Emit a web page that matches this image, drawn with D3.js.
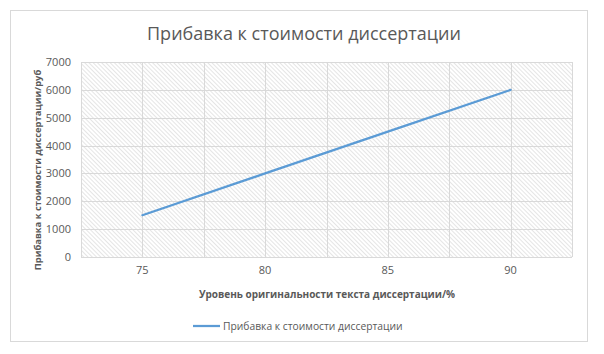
<!DOCTYPE html>
<html>
<head>
<meta charset="utf-8">
<script src="https://cdn.jsdelivr.net/npm/d3@7"></script>
<style>
  body { margin: 0; background: #fff; }
  text { font-family: "Open Sans", "Liberation Sans", sans-serif; }
</style>
</head>
<body>
<script>
const categories = ["75", "80", "85", "90"];
const values = [1500, 3000, 4500, 6000];
const yTicks = [0, 1000, 2000, 3000, 4000, 5000, 6000, 7000];
const chartTitle = "Прибавка к стоимости диссертации";
const xTitle = "Уровень оригинальности текста диссертации/%";
const yTitle = "Прибавка к стоимости диссертации/руб";
const seriesName = "Прибавка к стоимости диссертации";

const width = 604, height = 354;
const plot = { left: 81, right: 572, top: 62, bottom: 257 };

const svg = d3.select("body")
    .append("svg")
    .attr("width", width)
    .attr("height", height);

const defs = svg.append("defs");
const pat = defs.append("pattern")
    .attr("id", "hatch")
    .attr("patternUnits", "userSpaceOnUse")
    .attr("width", 3)
    .attr("height", 3)
    .attr("patternTransform", "rotate(-45)");
pat.append("rect").attr("width", 3).attr("height", 3).attr("fill", "#fff");
pat.append("line")
    .attr("x1", 0).attr("y1", 0).attr("x2", 0).attr("y2", 3)
    .attr("stroke", "#cccccc")
    .attr("stroke-width", 1);

// chart border
svg.append("rect")
    .attr("x", 10.5).attr("y", 10.5)
    .attr("width", 577).attr("height", 331)
    .attr("fill", "#fff")
    .attr("stroke", "#d9d9d9");

const x = d3.scaleBand().domain(categories).range([plot.left, plot.right]);
const y = d3.scaleLinear().domain([0, 7000]).range([plot.bottom, plot.top]);

// plot area
svg.append("rect")
    .attr("x", plot.left).attr("y", plot.top)
    .attr("width", plot.right - plot.left)
    .attr("height", plot.bottom - plot.top)
    .attr("fill", "url(#hatch)");

// horizontal gridlines
svg.append("g").selectAll("line")
    .data(yTicks)
    .enter()
    .append("line")
    .attr("x1", plot.left).attr("x2", plot.right)
    .attr("y1", d => Math.round(y(d)) + 0.5)
    .attr("y2", d => Math.round(y(d)) + 0.5)
    .attr("stroke", "#d9d9d9");

// vertical gridlines at band edges and centres
const vx = [];
categories.forEach(c => { vx.push(x(c)); vx.push(x(c) + x.bandwidth() / 2); });
vx.push(plot.right);
svg.append("g").selectAll("line")
    .data(vx)
    .enter()
    .append("line")
    .attr("x1", d => Math.round(d) + 0.5).attr("x2", d => Math.round(d) + 0.5)
    .attr("y1", plot.top).attr("y2", plot.bottom)
    .attr("stroke", "#d9d9d9");

// y axis
const yAxis = svg.append("g")
    .attr("transform", `translate(${plot.left},0)`)
    .call(d3.axisLeft(y).tickValues(yTicks).tickFormat(d3.format("d")).tickSize(0).tickPadding(10));
yAxis.select(".domain").remove();
yAxis.selectAll("text").attr("fill", "#595959").style("font-size", "11px");

// x axis
const xAxis = svg.append("g")
    .attr("transform", `translate(0,${plot.bottom})`)
    .call(d3.axisBottom(x).tickSize(0).tickPadding(9));
xAxis.select(".domain").remove();
xAxis.selectAll("text").attr("fill", "#595959").style("font-size", "11px");

// series line
const line = d3.line()
    .x((d, i) => x(categories[i]) + x.bandwidth() / 2)
    .y(d => y(d));
svg.append("path")
    .datum(values)
    .attr("fill", "none")
    .attr("stroke", "#5b9bd5")
    .attr("stroke-width", 2.25)
    .attr("stroke-linecap", "round")
    .attr("d", line);

// titles
svg.append("text")
    .attr("x", 304).attr("y", 40)
    .attr("text-anchor", "middle")
    .attr("fill", "#595959")
    .style("font-size", "18px")
    .text(chartTitle);

svg.append("text")
    .attr("x", 327).attr("y", 298)
    .attr("text-anchor", "middle")
    .attr("fill", "#595959")
    .style("font-size", "10px")
    .style("font-weight", "bold")
    .text(xTitle);

svg.append("text")
    .attr("transform", `translate(41,170) rotate(-90)`)
    .attr("text-anchor", "middle")
    .attr("fill", "#595959")
    .style("font-size", "9.4px")
    .style("font-weight", "bold")
    .text(yTitle);

// legend
const lg = svg.append("g").attr("transform", "translate(193,326)");
lg.append("line")
    .attr("x1", 0).attr("x2", 27).attr("y1", 0).attr("y2", 0)
    .attr("stroke", "#5b9bd5").attr("stroke-width", 2.25);
lg.append("text")
    .attr("x", 30).attr("y", 4)
    .attr("fill", "#595959")
    .style("font-size", "10.3px")
    .text(seriesName);
</script>
</body>
</html>
